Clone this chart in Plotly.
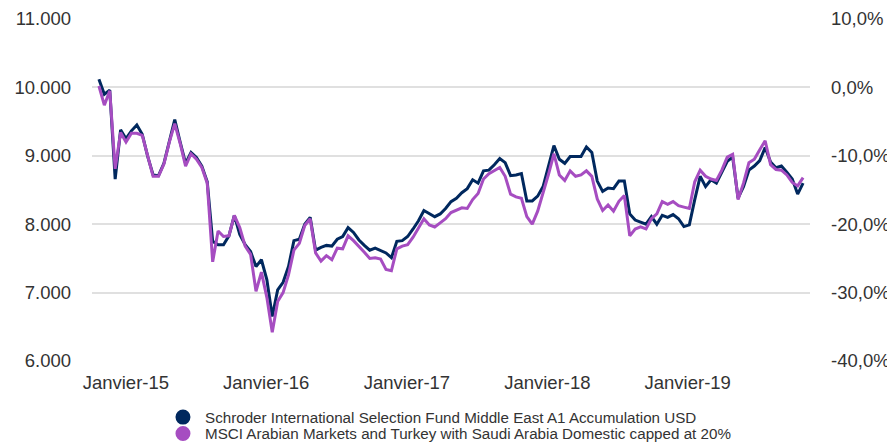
import pandas as pd
import plotly.graph_objects as go

# fortnightly points, Oct 2014 -> Oct 2019
dates = pd.date_range("2014-10-23", "2019-10-28", periods=131)

fund = [
    10120, 9900, 9960, 8660, 9380, 9250, 9365, 9450, 9315, 8990,
    8720, 8710, 8890, 9230, 9530, 9200, 8890, 9050, 8975, 8850,
    8620, 7750, 7700, 7700, 7830, 8130, 7850, 7700, 7600, 7380,
    7480, 7190, 6650, 7040, 7150, 7380, 7760, 7780, 8000, 8100,
    7620, 7660, 7690, 7680, 7780, 7820, 7950, 7880, 7770, 7690,
    7620, 7650, 7620, 7580, 7510, 7750, 7760, 7820, 7930, 8050,
    8200, 8150, 8110, 8150, 8230, 8330, 8380, 8460, 8520, 8650,
    8600, 8780, 8790, 8870, 8960, 8900, 8710, 8720, 8740, 8340,
    8340, 8410, 8550, 8850, 9150, 8950, 8890, 8990, 8990, 8990,
    9130, 9050, 8630, 8480, 8530, 8520, 8630, 8630, 8150, 8060,
    8030, 8000, 8110, 8000, 8130, 8100, 8140, 8080, 7965, 7990,
    8360, 8700, 8550, 8650, 8600, 8750, 8920, 8980, 8380, 8550,
    8790, 8850, 8930, 9120, 8910, 8825, 8850, 8760, 8660, 8440,
    8600,
]

index = [
    10020, 9740, 9950, 8810, 9340, 9200, 9330, 9330, 9300, 8980,
    8700, 8700, 8880, 9200, 9470, 9180, 8850, 9030, 8950, 8830,
    8600, 7450, 7900, 7820, 7830, 8130, 7950, 7680, 7560, 7020,
    7300, 6930, 6420, 6870, 7000, 7260, 7620, 7720, 7980, 8080,
    7580, 7460, 7540, 7480, 7650, 7640, 7830, 7760, 7680, 7590,
    7500, 7510, 7490, 7340, 7320, 7640, 7680, 7700, 7810, 7950,
    8080, 7990, 7960, 8020, 8080, 8170, 8210, 8240, 8230, 8360,
    8450, 8660, 8740, 8780, 8830, 8700, 8440, 8400, 8380, 8110,
    8000, 8190, 8450, 8730, 9030, 8720, 8640, 8780, 8700, 8720,
    8780, 8700, 8370, 8200, 8280, 8190, 8335, 8420, 7830, 7930,
    7960, 7930, 8080, 8150, 8330, 8290, 8330, 8270, 8250, 8230,
    8620, 8790, 8700, 8660, 8640, 8790, 8980, 9020, 8360, 8600,
    8900, 8950, 9090, 9220, 8870, 8800, 8790, 8720, 8610, 8560,
    8680,
]

names = [
    "Schroder International Selection Fund Middle East A1 Accumulation USD",
    "MSCI Arabian Markets and Turkey with Saudi Arabia Domestic capped at 20%",
]
colors = ["#00285e", "#a64dc1"]

x_ticks = ["2015-01-01", "2016-01-01", "2017-01-01", "2018-01-01", "2019-01-01"]
x_labels = ["Janvier-15", "Janvier-16", "Janvier-17", "Janvier-18", "Janvier-19"]
left_ticks = [6000, 7000, 8000, 9000, 10000, 11000]
left_labels = ["6.000", "7.000", "8.000", "9.000", "10.000", "11.000"]
right_ticks = [-0.4, -0.3, -0.2, -0.1, 0.0, 0.1]
right_labels = ["-40,0%", "-30,0%", "-20,0%", "-10,0%", "0,0%", "10,0%"]

fig = go.Figure()
for vals, name, col in zip([fund, index], names, colors):
    fig.add_trace(go.Scatter(x=dates, y=vals, mode="lines", name=name,
                             line=dict(color=col, width=3), showlegend=False))
# keeps the right-hand axis alive
fig.add_trace(go.Scatter(x=[None], y=[None], yaxis="y2", showlegend=False,
                         hoverinfo="skip"))

# legend drawn by hand so the two rows sit close together
legend_y = [-0.164, -0.212]
for name, col, ly in zip(names, colors, legend_y):
    fig.add_shape(type="circle", xref="paper", yref="paper",
                  xsizemode="pixel", ysizemode="pixel",
                  xanchor=0.1267, yanchor=ly, x0=-7.5, x1=7.5, y0=-7.5, y1=7.5,
                  fillcolor=col, line=dict(width=0))
    fig.add_annotation(x=0.1546, y=ly, xref="paper", yref="paper", text=name,
                       showarrow=False, xanchor="left", yanchor="middle",
                       font=dict(size=15.2, color="#333333"))

# page body has an 8px margin, so the figure is 8px smaller each way
font = "Liberation Sans, Arial, sans-serif"
fig.update_layout(
    width=887, height=434,
    margin=dict(l=84, r=85, t=11, b=81, autoexpand=False),
    plot_bgcolor="white", paper_bgcolor="white",
    font=dict(family=font, color="#333333", size=18.5),
    showlegend=False,
    xaxis=dict(range=["2014-10-05", "2019-11-15"], tickvals=x_ticks,
               ticktext=x_labels, showgrid=False, zeroline=False,
               showline=False, ticks="", ticklabelstandoff=8),
    yaxis=dict(range=[6000, 11000], tickvals=left_ticks, ticktext=left_labels,
               showgrid=True, gridcolor="#e0e0e0", gridwidth=2,
               zeroline=False, ticks="", ticklabelstandoff=20),
    yaxis2=dict(range=[-0.4, 0.1], tickvals=right_ticks, ticktext=right_labels,
                overlaying="y", side="right", showgrid=False, zeroline=False,
                ticks="", ticklabelstandoff=20),
)

fig.write_html("out.html")
